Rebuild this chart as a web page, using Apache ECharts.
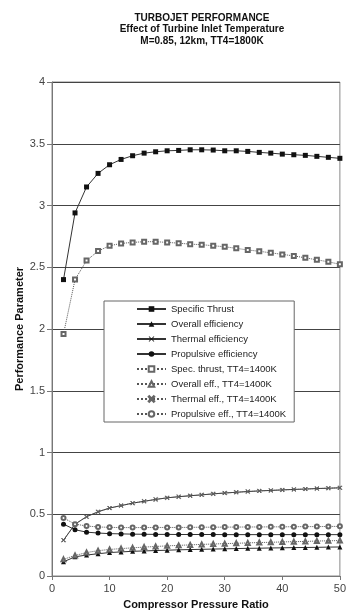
<!DOCTYPE html>
<html>
<head>
<meta charset="utf-8">
<script src="https://cdn.jsdelivr.net/npm/echarts@6/dist/echarts.min.js"></script>
<style>html,body{margin:0;padding:0;background:#fff}#c{width:349px;height:615px}</style>
</head>
<body>
<div id="c"></div>
<script>
var pressureRatio = [2,4,6,8,10,12,14,16,18,20,22,24,26,28,30,32,34,36,38,40,42,44,46,48,50];
var specificThrust = [2.40,2.94,3.15,3.26,3.33,3.373,3.403,3.424,3.435,3.443,3.446,3.451,3.451,3.449,3.443,3.443,3.438,3.430,3.424,3.416,3.411,3.406,3.398,3.390,3.382];
var overallEff = [0.115,0.155,0.17,0.18,0.19,0.195,0.2,0.203,0.206,0.209,0.212,0.214,0.216,0.218,0.22,0.222,0.224,0.225,0.227,0.228,0.23,0.231,0.232,0.234,0.235];
var thermalEff = [0.29,0.42,0.48,0.52,0.55,0.57,0.59,0.605,0.62,0.633,0.642,0.65,0.657,0.665,0.672,0.678,0.684,0.689,0.693,0.697,0.701,0.704,0.708,0.711,0.714];
var propulsiveEff = [0.42,0.375,0.355,0.348,0.343,0.341,0.339,0.338,0.337,0.337,0.336,0.336,0.336,0.336,0.335,0.335,0.335,0.335,0.335,0.335,0.335,0.335,0.335,0.335,0.335];
var specThrust1400 = [1.96,2.40,2.554,2.631,2.674,2.693,2.701,2.707,2.707,2.701,2.695,2.687,2.683,2.674,2.666,2.653,2.640,2.629,2.617,2.604,2.592,2.576,2.560,2.544,2.524];
var overallEff1400 = [0.135,0.166,0.19,0.205,0.215,0.222,0.228,0.234,0.239,0.244,0.248,0.252,0.256,0.259,0.262,0.265,0.268,0.271,0.273,0.276,0.278,0.28,0.283,0.285,0.287];
var thermalEff1400 = [0.29,0.42,0.48,0.52,0.55,0.57,0.59,0.605,0.62,0.633,0.642,0.65,0.657,0.665,0.672,0.678,0.684,0.689,0.693,0.697,0.701,0.704,0.708,0.711,0.714];
var propulsiveEff1400 = [0.47,0.42,0.405,0.397,0.394,0.392,0.392,0.392,0.393,0.393,0.393,0.394,0.395,0.395,0.396,0.396,0.397,0.397,0.398,0.398,0.399,0.4,0.4,0.401,0.402];
var seriesNames = ['Specific Thrust','Overall efficiency','Thermal efficiency','Propulsive efficiency','Spec. thrust, TT4=1400K','Overall eff., TT4=1400K','Thermal eff., TT4=1400K','Propulsive eff., TT4=1400K'];
var yTicks = ['0','0.5','1','1.5','2','2.5','3','3.5','4'];

var xMark = 'path://M0,1L1,0L5,4L9,0L10,1L6,5L10,9L9,10L5,6L1,10L0,9L4,5Z';
function pairs(v){ return pressureRatio.map(function(x,i){ return [x, v[i]]; }); }
function mk(name, data, symbol, size, dotted){
  return {
    name: name, type: 'line', data: pairs(data),
    symbol: symbol, symbolSize: size, showSymbol: true,
    lineStyle: {color: dotted ? '#555' : '#333', width: 1, type: dotted ? 'dotted' : 'solid'},
    itemStyle: {color: dotted ? '#666' : '#111', borderColor: dotted ? '#666' : '#111', borderWidth: dotted ? 0.8 : 0},
    emphasis: {disabled: true}, animation: false
  };
}
var chart = echarts.init(document.getElementById('c'), null, {renderer: 'canvas'});
var font = 'Liberation Sans, Arial, sans-serif';
chart.setOption({
  animation: false,
  textStyle: {fontFamily: font},
  title: {
    text: 'TURBOJET PERFORMANCE\nEffect of Turbine Inlet Temperature\nM=0.85, 12km, TT4=1800K',
    left: 197, top: 7, textAlign: 'center',
    textStyle: {fontSize: 10, fontWeight: 'bold', color: '#111', lineHeight: 11.5, fontFamily: font}
  },
  grid: {left: 52, right: 3, top: 82, bottom: 35, show: true, borderColor: '#888', borderWidth: 1, backgroundColor: 'transparent'},
  legend: {
    orient: 'vertical', left: 104, top: 301,
    backgroundColor: '#fff', borderColor: '#666', borderWidth: 1,
    padding: [2, 8, 2, 32], itemGap: 3, itemWidth: 29, itemHeight: 7,
    textStyle: {fontSize: 9.5, color: '#222', lineHeight: 12, fontFamily: font},
    data: seriesNames
  },
  xAxis: {
    type: 'value', min: 0, max: 50, interval: 10,
    name: 'Compressor Pressure Ratio', nameLocation: 'middle', nameGap: 23,
    nameMoveOverlap: false,
    nameTextStyle: {fontSize: 11, fontWeight: 'bold', color: '#111', fontFamily: font},
    axisLine: {lineStyle: {color: '#777'}},
    axisTick: {show: true, inside: false, length: 4, lineStyle: {color: '#777'}},
    axisLabel: {fontSize: 11, color: '#444', margin: 7},
    splitLine: {show: false}
  },
  yAxis: {
    type: 'value', min: 0, max: 4, interval: 0.5,
    name: 'Performance Parameter', nameLocation: 'middle', nameGap: 27,
    nameMoveOverlap: false,
    nameTextStyle: {fontSize: 11, fontWeight: 'bold', color: '#111', fontFamily: font},
    axisLine: {show: true, lineStyle: {color: '#777'}},
    axisTick: {show: true, inside: false, length: 5, lineStyle: {color: '#777'}},
    axisLabel: {fontSize: 11, color: '#444', margin: 7, formatter: function(v){ var i = Math.round(v/0.5); return yTicks[i]; }},
    splitLine: {show: true, lineStyle: {color: '#444', width: 1}}
  },
  series: [
    mk(seriesNames[0], specificThrust, 'rect', 5, false),
    mk(seriesNames[1], overallEff, 'triangle', 5, false),
    mk(seriesNames[2], thermalEff, xMark, 4, false),
    mk(seriesNames[3], propulsiveEff, 'circle', 5, false),
    mk(seriesNames[4], specThrust1400, 'emptyRect', 4, true),
    mk(seriesNames[5], overallEff1400, 'emptyTriangle', 4, true),
    mk(seriesNames[6], thermalEff1400, xMark, 4, true),
    mk(seriesNames[7], propulsiveEff1400, 'emptyCircle', 4, true)
  ]
});
</script>
</body>
</html>
